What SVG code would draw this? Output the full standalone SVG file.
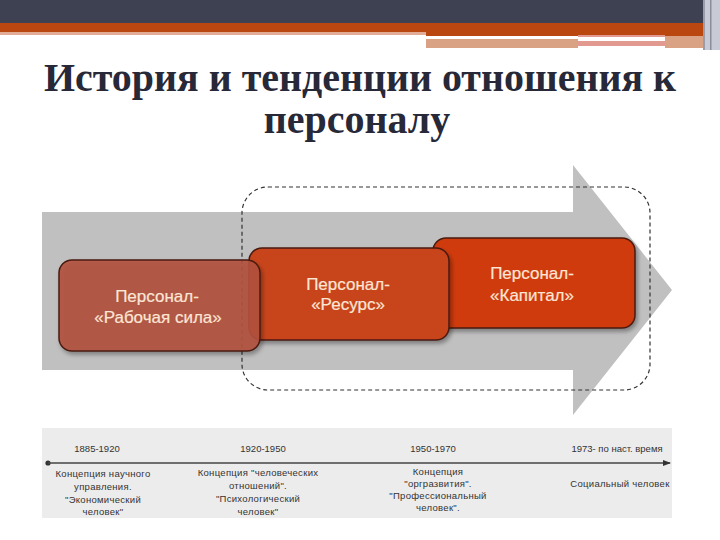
<svg xmlns="http://www.w3.org/2000/svg" width="720" height="540" viewBox="0 0 720 540">
<defs>
<style>
.box{stroke:#4a1a10;stroke-width:1.5}
.bt{font-family:"Liberation Sans",Arial,sans-serif;font-size:17px;fill:#fbe6d6;text-anchor:middle;stroke:#fbe6d6;stroke-width:0.2}
.yr{font-family:"Liberation Sans",Arial,sans-serif;font-size:9.5px;fill:#333;text-anchor:middle}
.ds{font-family:"Liberation Sans",Arial,sans-serif;font-size:9.5px;fill:#333;text-anchor:middle;letter-spacing:0.3px}
</style>
<filter id="sh" x="-10%" y="-10%" width="130%" height="140%">
<feDropShadow dx="2" dy="3" stdDeviation="2" flood-color="#000" flood-opacity="0.35"/>
</filter>
<marker id="ah" markerWidth="8" markerHeight="6" refX="7" refY="3" orient="auto" markerUnits="userSpaceOnUse">
<path d="M0,0 L8,3 L0,6 z" fill="#333"/>
</marker>
</defs>
<rect width="720" height="540" fill="#fff"/>
<g id="header">
<rect x="0" y="0" width="705" height="23" fill="#3e4152"/>
<rect x="0" y="23" width="705" height="9" fill="#bb4710"/>
<rect x="426" y="32" width="279" height="4" fill="#bb4710"/>
<rect x="0" y="32" width="426" height="3" fill="#e2ac96"/>
<rect x="426" y="39" width="152" height="9" fill="#d9a285"/>
<rect x="578" y="35" width="87" height="2" fill="#e29a90"/>
<rect x="578" y="41" width="87" height="5" fill="#e29a90"/>
<rect x="665" y="36" width="38" height="12" fill="#d9a285"/>
<rect x="705" y="0" width="15" height="50" fill="#c8cad6"/>
<rect x="703" y="0" width="2" height="50" fill="#9a9cab"/>
<rect x="710" y="0" width="1.5" height="50" fill="#8a8c9c"/>
</g>
<g id="title" font-family="'Liberation Serif', serif" font-weight="bold" font-size="40" fill="#272838" text-anchor="middle">
<text x="360" y="91" textLength="632" lengthAdjust="spacingAndGlyphs">История и тенденции отношения к</text>
<text x="357" y="133">персоналу</text>
</g>
<g id="arrow">
<path d="M42,212 L573,212 L573,165 L672,290 L573,415 L573,370 L42,370 Z" fill="#c0c0c0"/>
</g>
<g id="dashed-frame">
<rect x="242" y="187" width="408" height="203" rx="26" ry="26" fill="none" stroke="#333" stroke-width="1.2" stroke-dasharray="4,3"/>
</g>
<g id="node3">
<rect class="box" x="433" y="238" width="202" height="90" rx="13" fill="#d03a0e" filter="url(#sh)"/>
<text class="bt" x="532" y="279">Персонал-</text>
<text class="bt" x="532" y="301">«Капитал»</text>
</g>
<g id="node2">
<rect class="box" x="249" y="248" width="200" height="92" rx="13" fill="#c8451c" filter="url(#sh)"/>
<text class="bt" x="348" y="290">Персонал-</text>
<text class="bt" x="348" y="310">«Ресурс»</text>
</g>
<g id="node1">
<rect class="box" x="59" y="260" width="201" height="91" rx="13" fill="#b2523d" fill-opacity="0.9" filter="url(#sh)"/>
<text class="bt" x="157" y="302">Персонал-</text>
<text class="bt" x="158" y="323">«Рабочая сила»</text>
</g>
<g id="timeline">
<rect x="42" y="428" width="630" height="90" fill="#ececec"/>
<circle cx="48" cy="463" r="2.6" fill="#333"/>
<line x1="48" y1="463" x2="670" y2="463" stroke="#444" stroke-width="1.6" marker-end="url(#ah)"/>
<text class="yr" x="97" y="452">1885-1920</text>
<text class="yr" x="263" y="452">1920-1950</text>
<text class="yr" x="433" y="452">1950-1970</text>
<text class="yr" x="617" y="452">1973- по наст. время</text>
<g id="era1">
<text class="ds" x="103" y="477">Концепция научного</text>
<text class="ds" x="103" y="490">управления.</text>
<text class="ds" x="103" y="503">"Экономический</text>
<text class="ds" x="103" y="515">человек"</text>
</g>
<g id="era2">
<text class="ds" x="258" y="476">Концепция "человеческих</text>
<text class="ds" x="258" y="489">отношений".</text>
<text class="ds" x="258" y="502">"Психологический</text>
<text class="ds" x="258" y="515">человек"</text>
</g>
<g id="era3">
<text class="ds" x="438" y="475">Концепция</text>
<text class="ds" x="438" y="487">"оргразвития".</text>
<text class="ds" x="438" y="499">"Профессиональный</text>
<text class="ds" x="438" y="511">человек".</text>
</g>
<g id="era4">
<text class="ds" x="620" y="487">Социальный человек</text>
</g>
</g>
</svg>
